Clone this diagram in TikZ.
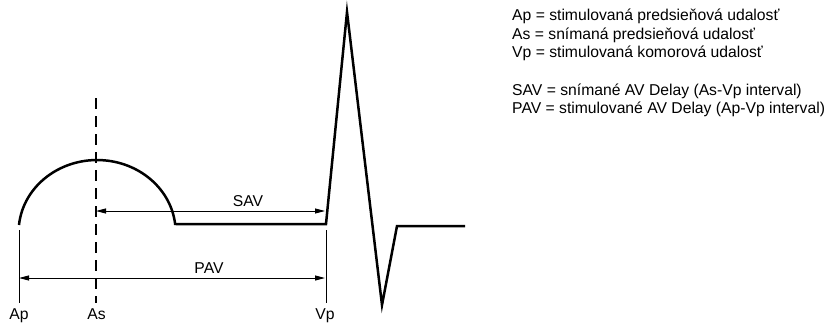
\documentclass[tikz,border=0pt]{standalone}
\usepackage{fontspec}
\setmainfont{Liberation Sans}
\usetikzlibrary{arrows.meta}
\begin{document}
\begin{tikzpicture}[x=1pt,y=1pt,
  wave/.style={line width=2.5pt,line join=miter},
  thinline/.style={line width=1pt},
  dashline/.style={line width=1.1pt,dash pattern=on 11pt off 7pt},
  dimarrow/.style={line width=1pt,{Triangle[length=10pt,width=5pt]}-{Triangle[length=10pt,width=5pt]}},
  lbl/.style={inner sep=0pt,anchor=base,font=\fontsize{15.7}{18.5}\selectfont},
  leg/.style={inner sep=0pt,anchor=base west,font=\fontsize{15.7}{18.5}\selectfont}]
\useasboundingbox (0,0) rectangle (826,322);
% waveform points
\coordinate (ap0) at (19,97);
\coordinate (b0) at (176,98);
\coordinate (vp0) at (326,98);
\coordinate (peak) at (347,310);
\coordinate (trough) at (382,17);
\coordinate (rise) at (397,96);
\coordinate (tail) at (465,96);
% waveform
\draw[wave] (ap0) arc[start angle=174.4,end angle=6.5,x radius=78.5pt,y radius=72pt]
  -- (b0) -- (vp0) -- (peak) -- (trough) -- (rise) -- (tail);
% markers
\coordinate (apT) at (19,92);
\coordinate (apB) at (19,19);
\coordinate (asT) at (96,224);
\coordinate (asB) at (96,19);
\coordinate (vpT) at (326,92);
\coordinate (vpB) at (326,19);
\draw[thinline] (apT) -- (apB);
\draw[dashline] (asT) -- (asB);
\draw[thinline] (vpT) -- (vpB);
% interval arrows
\coordinate (savL) at (96,111);
\coordinate (savR) at (325,111);
\coordinate (pavL) at (19,44);
\coordinate (pavR) at (325,44);
\draw[dimarrow] (savL) -- (savR);
\draw[dimarrow] (pavL) -- (pavR);
% labels
\node[lbl] (sav) at (248,116) {SAV};
\node[lbl] (pav) at (209,49) {PAV};
\node[lbl] (ap) at (19,3) {Ap};
\node[lbl] (as) at (96.5,3) {As};
\node[lbl] (vp) at (325,3) {Vp};
% legend
\node[leg] (l1) at (512,301) {Ap = stimulovaná predsieňová udalosť};
\node[leg] (l2) at (512,282.5) {As = snímaná predsieňová udalosť};
\node[leg] (l3) at (512,264) {Vp = stimulovaná komorová udalosť};
\node[leg] (l4) at (512,227) {SAV = snímané AV Delay (As-Vp interval)};
\node[leg] (l5) at (512,208.5) {PAV = stimulované AV Delay (Ap-Vp interval)};
\end{tikzpicture}
\end{document}
